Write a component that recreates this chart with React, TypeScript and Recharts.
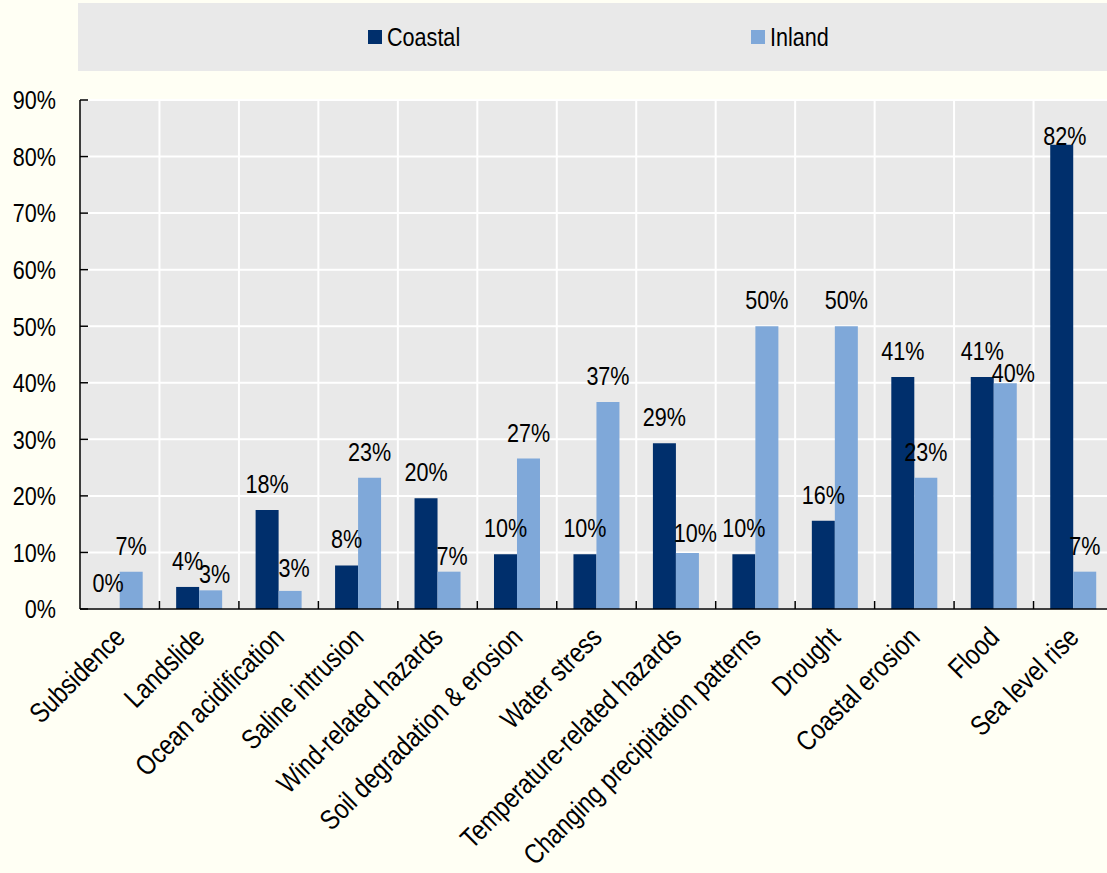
import React from 'react';
import { ComposedChart, Bar, XAxis, YAxis, CartesianGrid, Legend, LabelList } from 'recharts';

const categories = [
  'Subsidence',
  'Landslide',
  'Ocean acidification',
  'Saline intrusion',
  'Wind-related hazards',
  'Soil degradation & erosion',
  'Water stress',
  'Temperature-related hazards',
  'Changing precipitation patterns',
  'Drought',
  'Coastal erosion',
  'Flood',
  'Sea level rise',
];
const coastal = [0, 3.9, 17.5, 7.7, 19.6, 9.7, 9.7, 29.3, 9.7, 15.6, 41.0, 41.0, 82.1];
const inland = [6.6, 3.3, 3.2, 23.2, 6.6, 26.6, 36.6, 9.9, 50.0, 50.0, 23.2, 39.9, 6.6];
const yTicks = [0, 10, 20, 30, 40, 50, 60, 70, 80, 90];
const seriesNames = ['Coastal', 'Inland'];

// label nudges (relative offsets) where the original labels were moved to avoid overlap
const coastalLabelShift: Record<number, [number, number]> = { 12: [3, 17] };
const inlandLabelShift: Record<number, [number, number]> = {
  1: [4, 10],
  2: [4, 3],
  4: [3, 10],
  7: [8, 6],
  11: [8, 16],
};

const data = categories.map((name, i) => ({ name, coastal: coastal[i], inland: inland[i] }));

const FONT = '"Liberation Sans", Arial, sans-serif';
const FS = 26;
const NARROW = 0.83;
const XFS = 28;
const NAVY = '#002F6C';
const LIGHT = '#7FA8D9';
const GREY = '#E9E9E9';
const CREAM = '#FFFFF4';

const makeLabel = (shift: Record<number, [number, number]>) => (props: any) => {
  const { x, y, width, value, index } = props;
  const [dx, dy] = shift[index] || [0, 0];
  const cx = Number(x) + Number(width) / 2 + dx;
  const by = Number(y) - 17 + dy;
  return (
    <text
      transform={`translate(${cx} ${by}) scale(${NARROW} 1)`}
      textAnchor="middle"
      fontFamily={FONT}
      fontSize={FS}
      fill="#000"
    >
      {`${Math.round(Number(value))}%`}
    </text>
  );
};

const CatTick = (props: any) => {
  const { x, y, payload } = props;
  const tx = Number(x) + 7;
  const ty = Number(y) + 30;
  return (
    <text
      transform={`translate(${tx} ${ty}) rotate(-45) scale(${NARROW} 1)`}
      textAnchor="end"
      fontFamily={FONT}
      fontSize={XFS}
      fill="#000"
    >
      {payload.value}
    </text>
  );
};

const YTick = (props: any) => {
  const { x, y, payload } = props;
  return (
    <text
      transform={`translate(${x} ${y}) scale(${NARROW} 1)`}
      textAnchor="end"
      dy="0.36em"
      fontFamily={FONT}
      fontSize={FS}
      fill="#000"
    >
      {`${payload.value}%`}
    </text>
  );
};

// category boundaries (between bands) for the vertical grid lines
const boundaryLines = (args: any) => {
  const n = categories.length;
  try {
    const s = args && args.xAxis && args.xAxis.scale;
    if (typeof s === 'function') {
      const pts = categories.slice(1).map((c) => s(c));
      if (pts.every((p: any) => typeof p === 'number' && isFinite(p))) return pts;
    }
  } catch (e) {
    // fall through
  }
  const off = (args && args.offset) || {};
  const left = typeof off.left === 'number' ? off.left : 80;
  const w = typeof off.width === 'number' ? off.width : 1033;
  return categories.slice(1).map((_, i) => left + (w * (i + 1)) / n);
};

const LegendContent = () => (
  <div
    style={{
      background: GREY,
      height: 68,
      width: '100%',
      position: 'relative',
      fontFamily: FONT,
      fontSize: FS,
      color: '#000',
    }}
  >
    {[
      { label: seriesNames[0], color: NAVY, left: 290 },
      { label: seriesNames[1], color: LIGHT, left: 673 },
    ].map((it) => (
      <div
        key={it.label}
        style={{ position: 'absolute', left: it.left, top: 0, height: 68, display: 'flex', alignItems: 'center' }}
      >
        <span style={{ display: 'inline-block', width: 14, height: 14, background: it.color, marginRight: 5 }} />
        <span style={{ display: 'inline-block', transform: `scaleX(${NARROW})`, transformOrigin: 'left center', lineHeight: 1 }}>
          {it.label}
        </span>
      </div>
    ))}
  </div>
);

export default function App() {
  return (
    <div
      style={{
        position: 'absolute',
        left: 0,
        top: 0,
        width: 1107,
        height: 873,
        overflow: 'hidden',
        background: CREAM,
      }}
    >
      <ComposedChart
        width={1113}
        height={873}
        data={data}
        margin={{ top: 32, right: 0, bottom: 0, left: 0 }}
        barCategoryGap="21%"
        barGap={0}
      >
        <Legend
          verticalAlign="top"
          align="left"
          wrapperStyle={{ top: 3, left: 78, width: 1035, height: 68 }}
          content={<LegendContent />}
        />
        <XAxis
          xAxisId="cat"
          dataKey="name"
          type="category"
          height={264}
          interval={0}
          tickLine={false}
          tickSize={0}
          tickMargin={0}
          axisLine={{ stroke: '#000', strokeWidth: 1.5 }}
          tick={<CatTick />}
        />
        <YAxis
          yAxisId="left"
          domain={[0, 90]}
          ticks={yTicks}
          width={80}
          tickLine={false}
          tickSize={0}
          tickMargin={24}
          axisLine={{ stroke: '#000', strokeWidth: 1.5 }}
          tick={<YTick />}
        />
        <CartesianGrid
          xAxisId="cat"
          yAxisId="left"
          fill={GREY}
          fillOpacity={1}
          stroke="#FFFFFF"
          strokeWidth={2}
          verticalCoordinatesGenerator={boundaryLines}
        />
        <CartesianGrid
          xAxisId="cat"
          yAxisId="left"
          fill="none"
          vertical={false}
          stroke="#000"
          strokeWidth={1.5}
          strokeDasharray="8 3000"
        />
        <CartesianGrid
          xAxisId="cat"
          yAxisId="left"
          fill="none"
          horizontal={false}
          stroke="#000"
          strokeWidth={1.5}
          strokeDasharray="0 501 8 3000"
          verticalCoordinatesGenerator={boundaryLines}
        />
        <Bar
          dataKey="coastal"
          name={seriesNames[0]}
          xAxisId="cat"
          yAxisId="left"
          fill={NAVY}
          minPointSize={(v: any) => (Number(v) === 0 ? 0.01 : 0)}
          isAnimationActive={false}
        >
          <LabelList dataKey="coastal" content={makeLabel(coastalLabelShift)} />
        </Bar>
        <Bar dataKey="inland" name={seriesNames[1]} xAxisId="cat" yAxisId="left" fill={LIGHT} isAnimationActive={false}>
          <LabelList dataKey="inland" content={makeLabel(inlandLabelShift)} />
        </Bar>
      </ComposedChart>
    </div>
  );
}
